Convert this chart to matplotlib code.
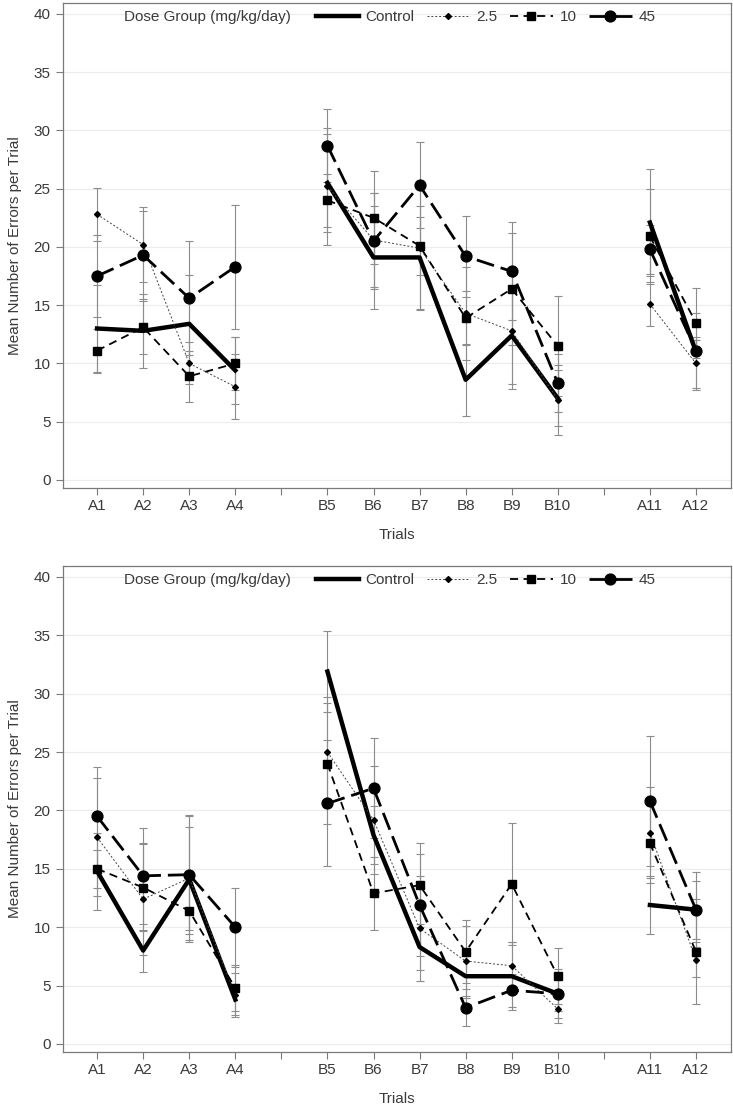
import numpy as np
import matplotlib
matplotlib.use("Agg")
import matplotlib.pyplot as plt

plt.rcParams['font.family'] = ['Liberation Sans', 'DejaVu Sans']
plt.rcParams['font.size'] = 11

# ---------------- data ----------------
categories = ['A1', 'A2', 'A3', 'A4', '', 'B5', 'B6', 'B7', 'B8', 'B9', 'B10', '', 'A11', 'A12']
groups = ['Control', '2.5', '10', '45']
nan = np.nan

# Panel 1
p1_control = [13.0, 12.8, 13.4, 9.4, nan, 25.5, 19.1, 19.1, 8.6, 12.4, 7.0, nan, 22.1, 11.0]
p1_control_err = [3.7, 3.2, 4.2, 2.9, nan, 4.2, 4.4, 4.4, 3.1, 4.2, 2.4, nan, 4.6, 1.0]
p1_d25 = [22.8, 20.2, 10.0, 8.0, nan, 25.2, 20.6, 19.9, 14.3, 12.8, 6.9, nan, 15.1, 10.0]
p1_d25_err = [2.3, 3.2, 1.8, 2.8, nan, 5.0, 4.0, 5.3, 4.0, 5.0, 3.0, nan, 1.9, 2.3]
p1_d10 = [11.1, 13.1, 8.9, 10.0, nan, 24.0, 22.5, 20.1, 13.9, 16.4, 11.5, nan, 20.9, 13.5]
p1_d10_err = [1.9, 2.3, 2.2, 2.3, nan, 2.3, 4.0, 2.5, 2.3, 4.8, 4.3, nan, 4.1, 3.0]
p1_d45 = [17.5, 19.3, 15.6, 18.3, nan, 28.7, 20.5, 25.3, 19.2, 17.9, 8.3, nan, 19.8, 11.1]
p1_d45_err = [3.5, 3.8, 4.9, 5.3, nan, 3.1, 4.1, 3.7, 3.5, 4.2, 2.5, nan, 2.1, 3.2]

# Panel 2
p2_control = [14.8, 8.0, 14.1, 3.8, nan, 31.9, 17.9, 8.3, 5.8, 5.8, 4.3, nan, 11.9, 11.5]
p2_control_err = [3.3, 1.8, 5.4, 1.3, nan, 3.5, 2.5, 2.0, 1.9, 2.9, 2.1, nan, 2.5, 2.5]
p2_d25 = [17.7, 12.4, 14.2, 4.2, nan, 25.0, 19.2, 9.9, 7.1, 6.7, 3.0, nan, 18.1, 7.2]
p2_d25_err = [5.05, 4.8, 4.4, 1.9, nan, 4.7, 4.6, 4.5, 3.0, 2.0, 1.2, nan, 3.9, 1.5]
p2_d10 = [15.0, 13.4, 11.4, 4.8, nan, 24.0, 12.9, 13.6, 7.9, 13.7, 5.8, nan, 17.2, 7.9]
p2_d10_err = [1.6, 3.7, 2.5, 2.0, nan, 5.2, 3.1, 3.6, 2.7, 5.2, 2.4, nan, 3.4, 4.5]
p2_d45 = [19.5, 14.4, 14.5, 10.0, nan, 20.6, 21.9, 11.9, 3.1, 4.6, 4.3, nan, 20.8, 11.5]
p2_d45_err = [4.25, 4.1, 5.1, 3.4, nan, 5.4, 4.3, 4.4, 1.6, 1.4, 1.5, nan, 5.6, 3.2]

panels = [
    [(p1_control, p1_control_err), (p1_d25, p1_d25_err), (p1_d10, p1_d10_err), (p1_d45, p1_d45_err)],
    [(p2_control, p2_control_err), (p2_d25, p2_d25_err), (p2_d10, p2_d10_err), (p2_d45, p2_d45_err)],
]

styles = [
    dict(color='black', lw=3.2, ls='-', marker=None, ms=0),
    dict(color='#444444', lw=0.7, ls=(0, (2.0, 2.0)), marker='D', ms=3.0),
    dict(color='black', lw=1.3, ls=(0, (4.5, 3.0)), marker='s', ms=6.2),
    dict(color='black', lw=2.0, ls=(0, (6.5, 2.5)), marker='o', ms=7.8),
]

W, H = 733, 1109
fig = plt.figure(figsize=(W / 100, H / 100), dpi=100)

axes_px = [(63, 3, 731, 488), (63, 566, 731, 1052)]
x = np.arange(len(categories))
gray = '#7a7a7a'
textc = '#3a3a3a'

for (l, t, r, b), series in zip(axes_px, panels):
    ax = fig.add_axes([l / W, 1 - b / H, (r - l) / W, (b - t) / H])
    ax.set_xlim(-0.74, 13.76)
    ax.set_ylim(-0.69, 40.94)
    ax.set_yticks(np.arange(0, 41, 5))
    ax.set_xticks(x)
    ax.set_xticklabels(categories)
    ax.yaxis.grid(True, color='#ececec', lw=0.8)
    ax.set_axisbelow(True)
    for sp in ax.spines.values():
        sp.set_color(gray)
        sp.set_linewidth(0.9)
    ax.tick_params(axis='both', colors=gray, labelcolor=textc, length=5, width=0.8,
                   labelsize=11)
    ax.tick_params(axis='x', pad=3)
    ax.tick_params(axis='y', pad=4)

    # error bars first (beneath)
    for (vals, errs), st in zip(series, styles):
        v = np.array(vals, dtype=float)
        e = np.array(errs, dtype=float)
        ax.errorbar(x, v, yerr=e, fmt='none', ecolor='#8c8c8c', elinewidth=0.8,
                    capsize=3.2, capthick=0.8, zorder=2)
    handles = []
    for (vals, errs), st, g in zip(series, styles, groups):
        v = np.array(vals, dtype=float)
        ln, = ax.plot(x, v, color=st['color'], lw=st['lw'], ls=st['ls'],
                      marker=st['marker'], ms=st['ms'], mfc='black', mec='black',
                      zorder=3, label=g)
        handles.append(ln)

    ax.set_xlabel('Trials', color=textc, fontsize=11, labelpad=11)
    ax.set_ylabel('Mean Number of Errors per Trial', color=textc, fontsize=11, labelpad=8)

    # legend title inline
    yleg = 1 - 14 / (b - t)
    ax.text((124 - l) / (r - l), yleg, 'Dose Group (mg/kg/day)', transform=ax.transAxes,
            ha='left', va='center', color=textc, fontsize=11)
    leg = ax.legend(handles=handles, loc='center left',
                    bbox_to_anchor=((316 - l) / (r - l), yleg), ncol=4, frameon=False,
                    borderpad=0, borderaxespad=0, handlelength=2.8, handletextpad=0.45,
                    columnspacing=0.8, numpoints=1, fontsize=11)
    for txt in leg.get_texts():
        txt.set_color(textc)

fig.savefig('out.png', dpi=100)
